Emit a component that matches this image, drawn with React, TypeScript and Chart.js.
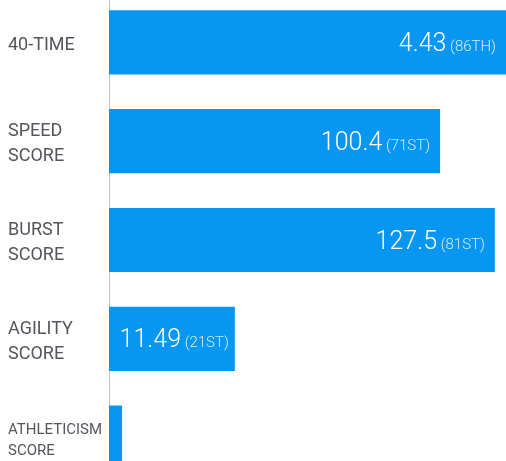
import React, { useEffect, useRef } from "react";
import { Chart, registerables } from "chart.js";

Chart.register(...registerables);

const categories: string[][] = [
  ["40-TIME"],
  ["SPEED", "SCORE"],
  ["BURST", "SCORE"],
  ["AGILITY", "SCORE"],
  ["ATHLETICISM", "SCORE"],
];
const barValues: number[] = [100, 83.4, 97.2, 31.7, 3.3];
const rawValues: string[] = ["4.43", "100.4", "127.5", "11.49", ""];
const percentiles: string[] = ["86TH", "71ST", "81ST", "21ST", ""];

const FONT = "Roboto, 'DejaVu Sans Condensed', sans-serif";
const BAR_COLOR = "#0796f2";

const valueLabelPlugin = {
  id: "valueLabels",
  afterDatasetsDraw(chart: any) {
    const ctx = chart.ctx;
    const meta = chart.getDatasetMeta(0);
    ctx.save();
    meta.data.forEach((bar: any, i: number) => {
      const big = rawValues[i];
      if (!big) return;
      const small = percentiles[i] ? " (" + percentiles[i] + ")" : "";
      ctx.font = `300 25px ${FONT}`;
      const wBig = ctx.measureText(big).width;
      ctx.font = `300 15px ${FONT}`;
      const wSmall = ctx.measureText(small).width;
      const barLen = Math.min(bar.x, chart.chartArea.right) - bar.base;
      const pad = barLen < 150 ? 6 : 10;
      const right = Math.min(bar.x, chart.chartArea.right) - pad;
      const xStart = right - wSmall - wBig;
      const baseline = bar.y + 8.5;
      ctx.textBaseline = "alphabetic";
      ctx.textAlign = "left";
      ctx.fillStyle = "#ffffff";
      ctx.font = `300 25px ${FONT}`;
      ctx.fillText(big, xStart, baseline);
      ctx.fillStyle = "rgba(255,255,255,0.82)";
      ctx.font = `300 15px ${FONT}`;
      ctx.fillText(small, xStart + wBig, baseline);
    });
    ctx.restore();
  },
};

export default function App() {
  const canvasRef = useRef<HTMLCanvasElement | null>(null);

  useEffect(() => {
    if (!canvasRef.current) return;
    const chart = new Chart(canvasRef.current, {
      type: "bar",
      data: {
        labels: categories,
        datasets: [
          {
            data: barValues,
            backgroundColor: BAR_COLOR,
            borderWidth: 0,
            barPercentage: 0.65,
            categoryPercentage: 1,
          },
        ],
      },
      options: {
        indexAxis: "y",
        animation: false,
        responsive: false,
        maintainAspectRatio: false,
        layout: { padding: { left: 8, right: 0, top: 0, bottom: 0 } },
        plugins: {
          legend: { display: false },
          tooltip: { enabled: false },
        },
        scales: {
          x: {
            display: false,
            min: 0,
            max: 100,
          },
          y: {
            afterFit: (scale: any) => {
              scale.width = 101;
              scale.paddingTop = 0;
              scale.paddingBottom = 0;
            },
            grid: { display: false, drawTicks: false },
            border: { display: true, color: "#c4c4c4", width: 1 },
            ticks: {
              crossAlign: "far",
              color: "#55555d",
              padding: 0,
              labelOffset: 3,
              autoSkip: false,
              font: (c: any) => ({
                family: FONT,
                weight: "normal",
                size: c.index === 4 ? 15 : 18,
                lineHeight: 1.4,
              }),
            },
          },
        },
      },
      plugins: [valueLabelPlugin],
    } as any);
    return () => chart.destroy();
  }, []);

  return (
    <div
      style={{
        position: "fixed",
        left: 0,
        top: 0,
        width: 506,
        height: 461,
        overflow: "hidden",
        background: "#fff",
      }}
    >
      <div style={{ position: "absolute", left: 0, top: -7, width: 506, height: 494 }}>
        <canvas ref={canvasRef} width={506} height={494} style={{ display: "block" }} />
      </div>
    </div>
  );
}
